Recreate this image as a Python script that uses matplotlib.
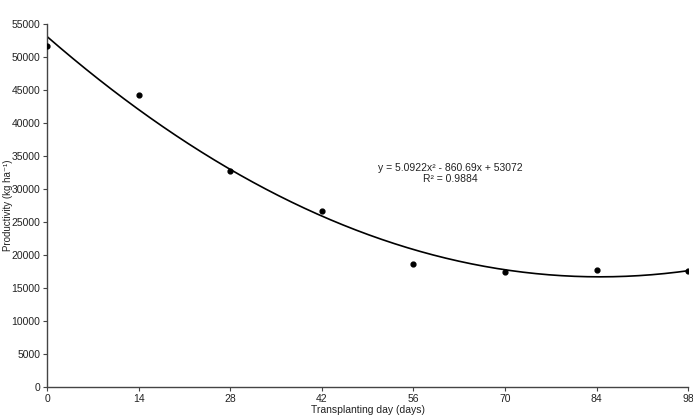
import numpy as np
import matplotlib.pyplot as plt

plt.rcParams['font.family'] = ['Liberation Sans', 'DejaVu Sans']

days = [0, 14, 28, 42, 56, 70, 84, 98]
productivity = [51600, 44300, 32800, 26700, 18600, 17500, 17800, 17600]
# trendline coefficients shown on the chart (a*x^2 + b*x + c)
coef = [5.0922, -860.69, 53072]
r2 = 0.9884

fig = plt.figure(figsize=(6.93, 4.19), dpi=100)
ax = fig.add_axes([0.068, 0.076, 0.925, 0.867])

xs = np.linspace(0, 98, 300)
ax.plot(xs, np.polyval(coef, xs), color='black', lw=1.2)
ax.scatter(days, productivity, color='black', s=12, zorder=3)

ax.set_xlim(0, 98)
ax.set_ylim(0, 55000)
ax.set_xticks(days)
ax.set_yticks(range(0, 55001, 5000))
for s in ['top', 'right']:
    ax.spines[s].set_visible(False)
for s in ['left', 'bottom']:
    ax.spines[s].set_color('#444444')
    ax.spines[s].set_linewidth(1.0)
ax.tick_params(direction='out', length=3, width=0.8, color='#444444',
               labelsize=7.5, labelcolor='#222222', pad=2)

ax.set_xlabel('Transplanting day (days)', fontsize=7.5, color='#222222', labelpad=1)
ax.set_ylabel('Productivity (kg ha⁻¹)', fontsize=7, color='#222222')
ax.yaxis.set_label_coords(-0.053, 0.5)

ax.text(61.6, 32400, 'y = 5.0922x² - 860.69x + 53072\nR² = 0.9884',
        ha='center', va='center', fontsize=7.5, color='#222222', linespacing=1.15)

fig.savefig('out.png', dpi=100)
